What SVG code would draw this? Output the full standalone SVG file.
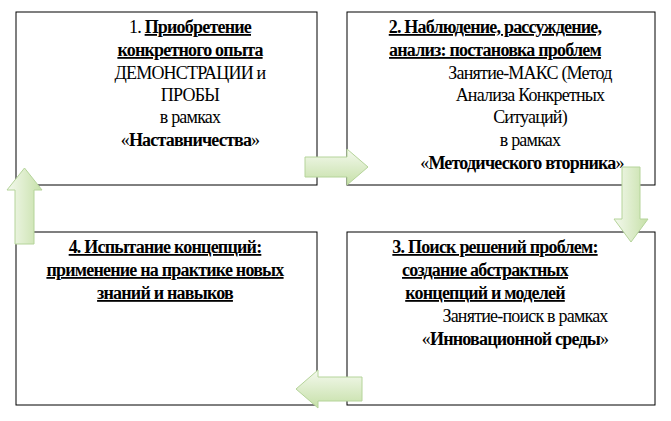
<svg xmlns="http://www.w3.org/2000/svg" width="671" height="421" viewBox="0 0 671 421" font-family="'Liberation Serif','DejaVu Serif',serif">
<style>
.box{fill:#fff;stroke:#000;stroke-width:1}
text{font-family:'Liberation Serif','DejaVu Serif',serif;font-size:18px;text-anchor:middle;fill:#000;letter-spacing:-0.8px}
.b{font-weight:bold}
.u{text-decoration:underline}
.arr{fill:url(#g);stroke:#b5d49a;stroke-width:1}
</style>
<defs>
<linearGradient id="g" x1="0" y1="0" x2="0" y2="1"><stop offset="0" stop-color="#f4f9ee"/><stop offset="1" stop-color="#c6e0a8"/></linearGradient>
<linearGradient id="gv" x1="0" y1="0" x2="1" y2="0"><stop offset="0" stop-color="#f4f9ee"/><stop offset="1" stop-color="#c6e0a8"/></linearGradient>
</defs>
<g id="node1"><rect class="box" x="16" y="12" width="301" height="173"/>
<text x="190" y="33"><tspan>1.  </tspan><tspan class="b u">Приобретение</tspan></text>
<text x="190" y="56" class="b u">конкретного опыта</text>
<text x="190" y="79">ДЕМОНСТРАЦИИ и</text>
<text x="190" y="101">ПРОБЫ</text>
<text x="190" y="123">в рамках</text>
<text x="190" y="146">«<tspan class="b">Наставничества</tspan>»</text></g>
<g id="node2"><rect class="box" x="347" y="12" width="308" height="173"/>
<text x="495" y="33" class="b u">2. Наблюдение, рассуждение,</text>
<text x="495" y="56" class="b u">анализ: постановка проблем</text>
<text x="530" y="79">Занятие-МАКС (Метод</text>
<text x="530" y="101">Анализа Конкретных</text>
<text x="530" y="123">Ситуаций)</text>
<text x="530" y="146">в рамках</text>
<text x="522" y="169">«<tspan class="b">Методического вторника</tspan>»</text></g>
<g id="node4"><rect class="box" x="16" y="232" width="301" height="173"/>
<text x="165" y="253" class="b u">4. Испытание концепций:</text>
<text x="165" y="276" class="b u">применение на практике новых</text>
<text x="165" y="299" class="b u">знаний и навыков</text></g>
<g id="node3"><rect class="box" x="347" y="232" width="308" height="173"/>
<text x="495" y="253" class="b u">3. Поиск решений проблем:</text>
<text x="485" y="276" class="b u">создание абстрактных</text>
<text x="485" y="299" class="b u">концепций и моделей</text>
<text x="525" y="322">Занятие-поиск в рамках</text>
<text x="515" y="345">«<tspan class="b">Инновационной среды</tspan>»</text></g>
<g id="connectors">
<polygon class="arr" points="305,157 347,157 347,149 368,167 347,185 347,177 305,177"/>
<polygon class="arr" style="fill:url(#gv)" points="622,167 640,167 640,219 648,219 631,242 614,219 622,219"/>
<polygon class="arr" style="fill:url(#gv)" points="15,244 34,244 34,190 42,190 24.5,168 7,190 15,190"/>
<polygon class="arr" points="362,377 318,377 318,370 296,389 318,408 318,401 362,401"/>
</g>
</svg>
